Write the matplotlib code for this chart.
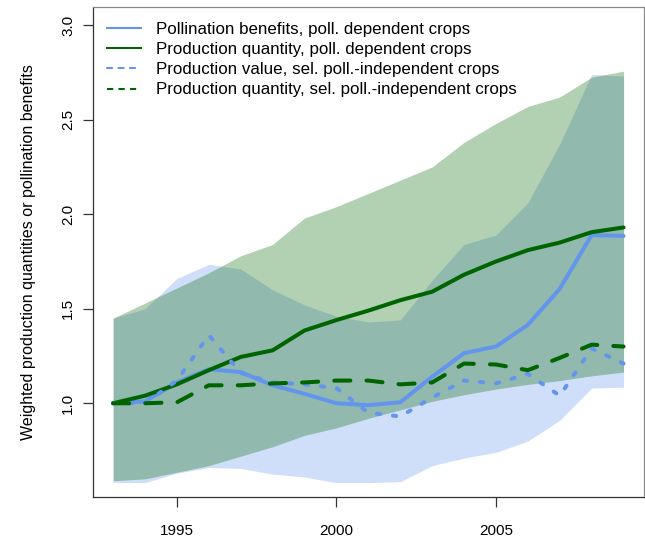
import matplotlib
matplotlib.use("Agg")
import matplotlib.pyplot as plt
from matplotlib.lines import Line2D

plt.rcParams['font.family'] = ['Liberation Sans', 'DejaVu Sans']

years = list(range(1993, 2010))

# central lines
poll_benefits = [1.0, 1.01, 1.11, 1.18, 1.165, 1.095, 1.05, 1.0, 0.99, 1.005,
                 1.14, 1.265, 1.30, 1.415, 1.605, 1.89, 1.885]
prod_qty_dep = [1.0, 1.04, 1.10, 1.175, 1.245, 1.28, 1.385, 1.44, 1.49, 1.545,
                1.59, 1.68, 1.75, 1.81, 1.85, 1.905, 1.93]
prod_val_indep = [1.0, 1.0, 1.12, 1.36, 1.16, 1.11, 1.10, 1.08, 0.95, 0.93,
                  1.03, 1.12, 1.105, 1.155, 1.04, 1.29, 1.21]
prod_qty_indep = [1.0, 1.0, 1.005, 1.095, 1.095, 1.105, 1.11, 1.12, 1.12, 1.10,
                  1.11, 1.21, 1.205, 1.175, 1.24, 1.31, 1.30]

# ranges (shaded bands)
blue_low = [0.58, 0.58, 0.63, 0.66, 0.655, 0.625, 0.61, 0.58, 0.58, 0.585,
            0.67, 0.71, 0.74, 0.80, 0.91, 1.08, 1.085]
blue_high = [1.45, 1.50, 1.66, 1.735, 1.71, 1.60, 1.52, 1.46, 1.43, 1.44,
             1.65, 1.84, 1.89, 2.06, 2.37, 2.74, 2.73]
green_low = [0.59, 0.60, 0.635, 0.67, 0.72, 0.77, 0.83, 0.87, 0.92, 0.965,
             1.01, 1.045, 1.075, 1.10, 1.12, 1.145, 1.165]
green_high = [1.45, 1.53, 1.61, 1.69, 1.78, 1.84, 1.98, 2.04, 2.11, 2.18,
              2.25, 2.38, 2.48, 2.57, 2.62, 2.725, 2.757]

labels = ["Pollination benefits, poll. dependent crops",
          "Production quantity, poll. dependent crops",
          "Production value, sel. poll.-independent crops",
          "Production quantity, sel. poll.-independent crops"]

blue = '#6495ED'   # cornflowerblue
green = '#006400'  # darkgreen

fig = plt.figure(figsize=(6.45, 5.41), dpi=100)
ax = fig.add_axes([0.1437, 0.0813, 0.8547, 0.9057])

ax.fill_between(years, blue_low, blue_high, color=blue, alpha=0.3, linewidth=0)
ax.fill_between(years, green_low, green_high, color=green, alpha=0.3, linewidth=0)

lw = 2.9
ax.plot(years, poll_benefits, color=blue, lw=lw, solid_capstyle='round',
        solid_joinstyle='round')
ax.plot(years, prod_qty_dep, color=green, lw=lw, solid_capstyle='round',
        solid_joinstyle='round')
ax.plot(years, prod_val_indep, color=blue, lw=lw, dashes=(0.8, 3.2),
        dash_capstyle='round')
ax.plot(years, prod_qty_indep, color=green, lw=lw, dashes=(4, 4),
        dash_capstyle='round')

ax.set_xlim(1992.36, 2009.64)
ax.set_ylim(0.504, 3.096)
ax.set_xticks([1995, 2000, 2005])
ax.set_yticks([1.0, 1.5, 2.0, 2.5, 3.0])
ax.set_yticklabels(['1.0', '1.5', '2.0', '2.5', '3.0'], rotation=90, va='center')
ax.tick_params(axis='x', length=7.5, width=0.9, color='#333333', pad=12, labelsize=11)
ax.tick_params(axis='y', length=7.5, width=0.9, color='#333333', pad=5, labelsize=11)
for side in ['left', 'bottom']:
    ax.spines[side].set_color('#333333')
    ax.spines[side].set_linewidth(0.9)
for side in ['top', 'right']:
    ax.spines[side].set_color('#888888')
    ax.spines[side].set_linewidth(0.9)

ax.set_ylabel("Weighted production quantities or pollination benefits",
              fontsize=11.5, labelpad=18)

handles = [
    Line2D([], [], color=blue, lw=1.5),
    Line2D([], [], color=green, lw=1.5),
    Line2D([], [], color=blue, lw=1.5, dashes=(2.5, 3), dash_capstyle='round'),
    Line2D([], [], color=green, lw=1.5, dashes=(3, 2.5)),
]
ax.legend(handles, labels, loc='upper left', bbox_to_anchor=(0.026, 0.970),
          frameon=False, fontsize=12.2, handlelength=2.0, handletextpad=0.9,
          labelspacing=0.31, borderpad=0, borderaxespad=0)

fig.savefig('out.png', dpi=100)
